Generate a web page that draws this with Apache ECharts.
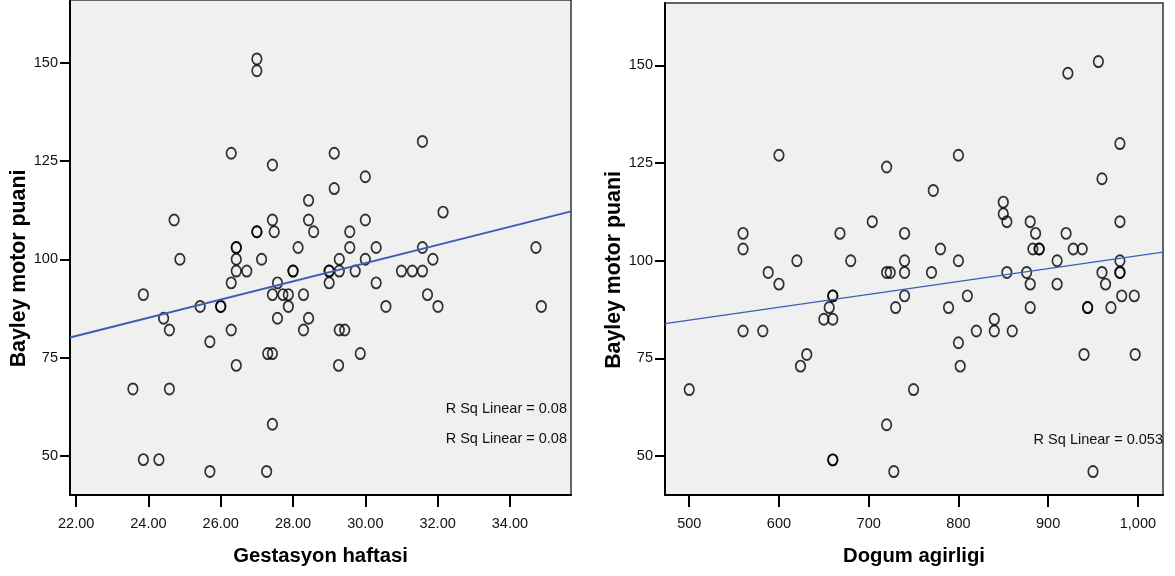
<!DOCTYPE html>
<html>
<head>
<meta charset="utf-8" />
<title>Bayley motor puani</title>
<script src="https://cdn.jsdelivr.net/npm/echarts@6/dist/echarts.min.js"></script>
<style>
  * { margin: 0; padding: 0; box-sizing: border-box; }
  body { background: #fff; }
</style>
</head>
<body>
<div id="main" style="width: 1175px; height: 576px"></div>
<script>
// Gestasyon haftasi vs Bayley motor puani
const gestWeeks = [23.57, 23.86, 23.86, 24.29, 24.42, 24.58, 24.58, 24.71, 24.87, 25.43,
  25.70, 25.70, 26.00, 26.00, 26.29, 26.29, 26.29, 26.43, 26.43, 26.43,
  26.43, 26.43, 26.72, 27.00, 27.00, 27.00, 27.00, 27.13, 27.27, 27.30,
  27.43, 27.43, 27.43, 27.48, 27.43, 27.43, 27.57, 27.57, 27.72, 27.87,
  27.87, 28.00, 28.00, 28.14, 28.29, 28.29, 28.43, 28.43, 28.43, 28.57,
  29.00, 29.00, 29.00, 29.14, 29.14, 29.26, 29.28, 29.28, 29.28, 29.43,
  29.57, 29.57, 29.72, 29.86, 30.00, 30.00, 30.00, 30.30, 30.30, 30.57,
  31.00, 31.30, 31.58, 31.58, 31.58, 31.72, 31.87, 32.01, 32.15, 34.72, 34.87];
const gestScores = [67, 91, 49, 49, 85, 82, 67, 110, 100, 88,
  79, 46, 88, 88, 127, 94, 82, 103, 103, 100,
  97, 73, 97, 151, 148, 107, 107, 100, 46, 76,
  76, 124, 110, 107, 91, 58, 94, 85, 91, 91,
  88, 97, 97, 103, 91, 82, 115, 110, 85, 107,
  97, 97, 94, 127, 118, 73, 100, 97, 82, 82,
  107, 103, 97, 76, 121, 110, 100, 103, 94, 88,
  97, 97, 130, 103, 97, 91, 100, 88, 112, 103, 88];

// Dogum agirligi vs Bayley motor puani
const birthWeights = [500, 560, 560, 560, 582, 588, 600, 600, 620, 624,
  631, 650, 656, 660, 660, 660, 660, 660, 668, 680,
  704, 720, 720, 724, 720, 728, 730, 740, 740, 740,
  740, 750, 770, 772, 780, 789, 800, 800, 800, 802,
  810, 820, 840, 840, 850, 850, 854, 854, 860, 876,
  880, 880, 880, 883, 886, 890, 890, 910, 910, 920,
  922, 928, 938, 940, 944, 944, 950, 956, 960, 960,
  964, 970, 980, 980, 980, 980, 980, 982, 996, 997];
const weightScores = [67, 107, 103, 82, 82, 97, 127, 94, 100, 73,
  76, 85, 88, 91, 91, 85, 49, 49, 107, 100,
  110, 124, 97, 97, 58, 46, 88, 107, 100, 97,
  91, 67, 97, 118, 103, 88, 127, 100, 79, 73,
  91, 82, 85, 82, 115, 112, 110, 97, 82, 97,
  110, 94, 88, 103, 107, 103, 103, 100, 94, 107,
  148, 103, 103, 76, 88, 88, 46, 151, 121, 97,
  94, 88, 130, 110, 100, 97, 97, 91, 91, 76];

// fit lines (read at the plot edges)
const gestFitX = [21.83, 35.69];
const gestFitY = [80.1, 112.2];
const weightFitX = [473, 1028];
const weightFitY = [83.9, 102.2];

const gestTicks = [22, 24, 26, 28, 30, 32, 34];
const weightTicks = [500, 600, 700, 800, 900, 1000];
const scoreTicks = [50, 75, 100, 125, 150];

const gestRsq = ["R Sq Linear = 0.08", "R Sq Linear = 0.08"];
const weightRsq = ["R Sq Linear = 0.053"];

const FONT = "'Liberation Sans', Arial, sans-serif";
const zip = (xs, ys) => xs.map((x, i) => [x, ys[i]]);

var myChart = echarts.init(document.getElementById("main"));

function xAxisFor(idx, min, max, ticks, name, fmt) {
  return {
    type: "value", gridIndex: idx, min: min, max: max,
    name: name, nameLocation: "middle", nameGap: 51,
    nameTextStyle: { fontFamily: FONT, fontSize: 20.3, fontWeight: "bold", color: "#000" },
    axisLine: { onZero: false, lineStyle: { color: "#000", width: 2 } },
    axisTick: { customValues: ticks, length: 12, lineStyle: { color: "#000", width: 2 } },
    axisLabel: { customValues: ticks, margin: 21, fontFamily: FONT, fontSize: 14.5, color: "#111", formatter: fmt },
    splitLine: { show: false },
  };
}
function yAxisFor(idx) {
  return {
    type: "value", gridIndex: idx, min: 40, max: 166,
    name: "Bayley motor puani", nameLocation: "middle", nameGap: 39,
    nameTextStyle: { fontFamily: FONT, fontSize: 21.3, fontWeight: "bold", color: "#000", padding: [0, 42, 0, 0] },
    axisLine: { onZero: false, lineStyle: { color: "#000", width: 2 } },
    axisTick: { customValues: scoreTicks, length: 10, lineStyle: { color: "#000", width: 2 } },
    axisLabel: { customValues: scoreTicks, margin: 12, fontFamily: FONT, fontSize: 14.5, color: "#111" },
    splitLine: { show: false },
  };
}
const scatterStyle = { color: "rgba(0,0,0,0)", borderColor: "#000", borderWidth: 1.8 };

var option = {
  animation: false,
  grid: [
    { left: 70, top: -1, right: 604, bottom: 81, show: true, backgroundColor: "#f0f0f0", borderColor: "#333", borderWidth: 1.5 },
    { left: 665, top: 3, right: 12, bottom: 81, show: true, backgroundColor: "#f0f0f0", borderColor: "#333", borderWidth: 1.5 },
  ],
  xAxis: [
    xAxisFor(0, 21.83, 35.69, gestTicks, "Gestasyon haftasi", (v) => v.toFixed(2)),
    xAxisFor(1, 473, 1028, weightTicks, "Dogum agirligi", (v) => v.toLocaleString("en-US")),
  ],
  yAxis: [yAxisFor(0), yAxisFor(1)],
  graphic: [
    ...gestRsq.map((t, i) => ({
      type: "text", x: 567, y: 409 + i * 30, silent: true,
      style: { text: t, font: "14.5px " + FONT, fill: "#111", align: "right", verticalAlign: "middle" },
    })),
    ...weightRsq.map((t) => ({
      type: "text", x: 1163, y: 440, silent: true,
      style: { text: t, font: "14.5px " + FONT, fill: "#111", align: "right", verticalAlign: "middle" },
    })),
  ],
  series: [
    {
      type: "scatter", xAxisIndex: 0, yAxisIndex: 0,
      symbol: "circle", symbolSize: [9.5, 11], itemStyle: scatterStyle,
      data: zip(gestWeeks, gestScores), z: 2,
    },
    {
      type: "line", xAxisIndex: 0, yAxisIndex: 0, showSymbol: false, silent: true,
      lineStyle: { color: "#3f5db5", width: 2 },
      data: zip(gestFitX, gestFitY), z: 3,
    },
    {
      type: "scatter", xAxisIndex: 1, yAxisIndex: 1,
      symbol: "circle", symbolSize: [9.5, 11], itemStyle: scatterStyle,
      data: zip(birthWeights, weightScores), z: 2,
    },
    {
      type: "line", xAxisIndex: 1, yAxisIndex: 1, showSymbol: false, silent: true,
      lineStyle: { color: "#3f5db5", width: 1.4 },
      data: zip(weightFitX, weightFitY), z: 3,
    },
  ],
};

myChart.setOption(option);
</script>
</body>
</html>
